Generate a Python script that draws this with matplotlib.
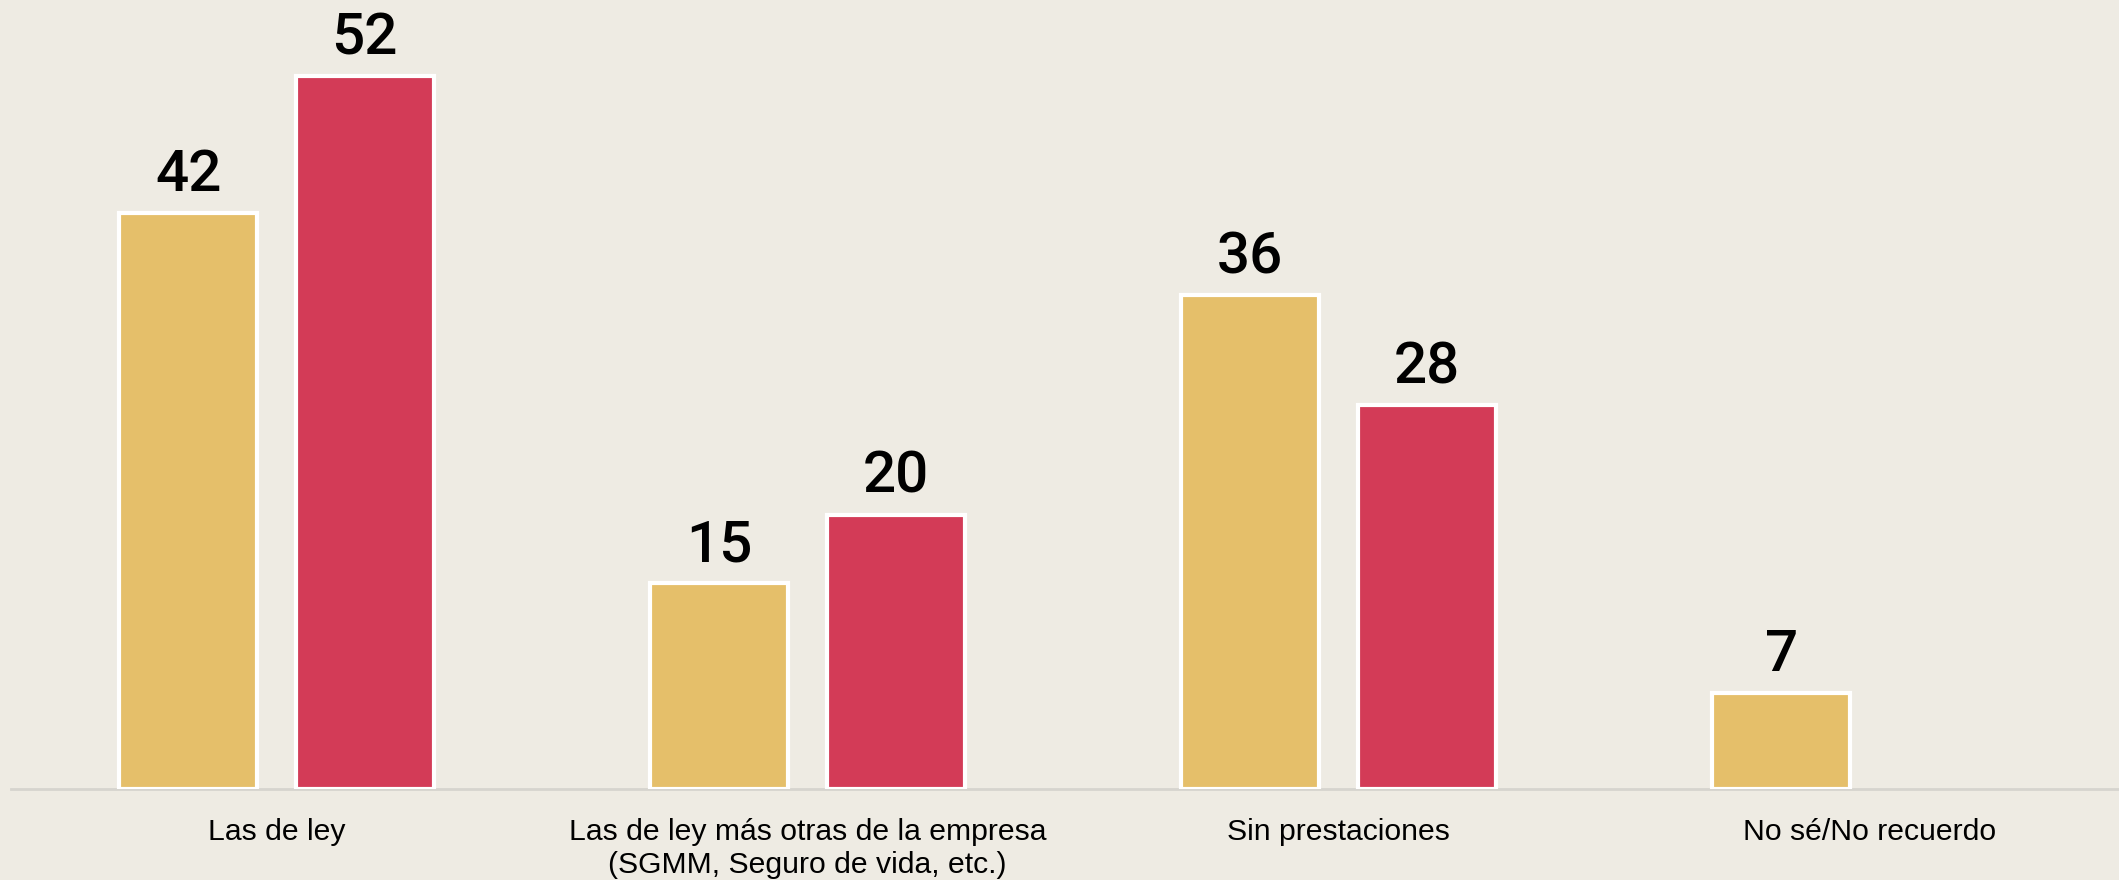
import numpy as np
import matplotlib.pyplot as plt

# ---------------------------------------------------------------------------
# DATA
# ---------------------------------------------------------------------------
categories = [
    "Las de ley",
    "Las de ley más otras de la empresa\n(SGMM, Seguro de vida, etc.)",
    "Sin prestaciones",
    "No sé/No recuerdo",
]
serie_amarilla = [42, 15, 36, 7]
serie_roja = [52, 20, 28, np.nan]

BG = "#EEEBE3"
AMARILLO = "#E5BF6A"
ROJO = "#D33B57"

# ---------------------------------------------------------------------------
# FIGURE
# ---------------------------------------------------------------------------
fig = plt.figure(figsize=(21.19, 8.8), dpi=100, facecolor=BG)
ax = fig.add_axes([11 / 2119, 1 - 789 / 880, 1 - 11 / 2119, 789 / 880 - 0.005])
ax.set_facecolor(BG)

x = np.arange(len(categories))
w = 0.26
off = 0.166

for xs, vals, color in [(x - off, serie_amarilla, AMARILLO), (x + off, serie_roja, ROJO)]:
    for xi, v in zip(xs, vals):
        if np.isnan(v):
            continue
        ax.bar(xi, v, width=w, color=color, edgecolor="white", linewidth=3, zorder=3)
        ax.annotate(f"{v:g}", (xi, v), xytext=(0, 7), textcoords="offset points",
                    ha="center", va="bottom", fontsize=42, fontfamily="Roboto",
                    fontweight="medium", color="black")

ax.set_xlim(-0.5, 3.47)
ax.set_ylim(0, 57.2)

ax.set_xticks(x)
ax.set_xticklabels(categories, fontsize=21.7, fontfamily="Liberation Sans",
                   linespacing=1.2)
ax.tick_params(axis="x", length=0, pad=21)
ax.set_yticks([])

for s in ["top", "right", "left"]:
    ax.spines[s].set_visible(False)
ax.spines["bottom"].set_color("#D6D4CE")
ax.spines["bottom"].set_linewidth(2)

fig.savefig("out.png", dpi=100, facecolor=BG)
